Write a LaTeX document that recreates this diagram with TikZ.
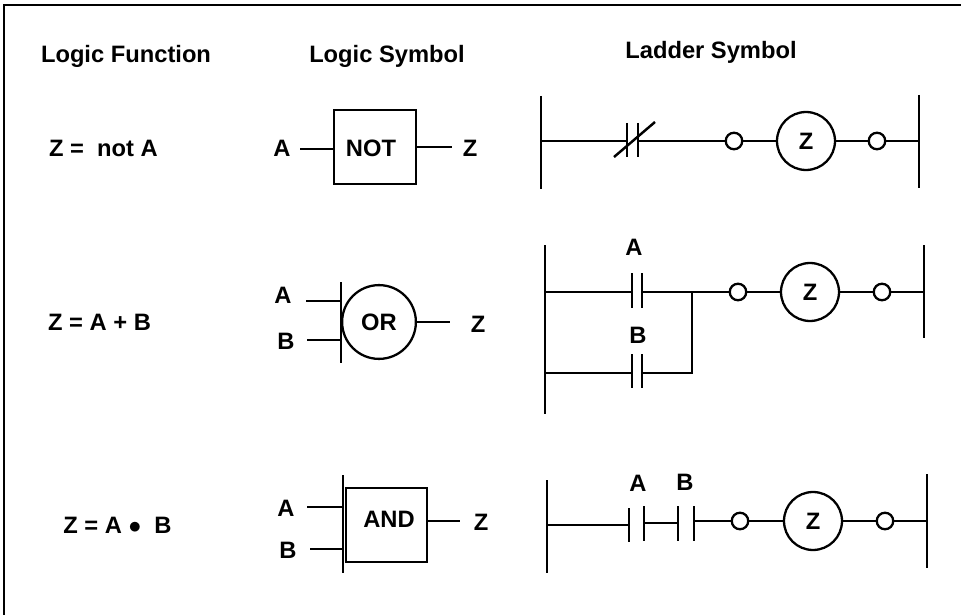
\documentclass[tikz,border=0pt]{standalone}
\usepackage{fontspec}
\setmainfont{Liberation Sans}
\usepackage{tikz}
\usetikzlibrary{positioning, calc}

\tikzset{
    wire/.style={line width=1.4pt},
    rail/.style={line width=1.5pt},
    lbl/.style={font=\fontsize{13.5}{15}\selectfont\bfseries, inner sep=0pt},
    coil/.style={draw, circle, line width=1.3pt, minimum size=33pt, inner sep=0pt, font=\fontsize{13.5}{15}\selectfont\bfseries},
    lamp/.style={draw, circle, line width=1.3pt, minimum size=9.4pt, inner sep=0pt},
    gatebox/.style={draw, line width=1.3pt, inner sep=0pt}
}

\begin{document}
\begin{tikzpicture}[x=0.02cm, y=-0.02cm]
    \useasboundingbox (0,0) rectangle (961,615);
    \draw[line width=1.4pt] (4,615) -- (4,5) -- (961,5);
    % column heads
    \node[lbl] (headfunc) at (126,56) {Logic Function};
    \node[lbl] (headsym) at (387,56) {Logic Symbol};
    \node[lbl] (headlad) at (711,52) {Ladder Symbol};
    % logic functions
    \node[lbl] (fnot) at (103.5,148) {Z =\ \ not A};
    \node[lbl] (for) at (99.5,322) {Z = A + B};
    \node[lbl] (fand) at (117.5,525) {Z = A {\Large$\bullet$}\ \ B};

    % NOT gate
    \node[gatebox, minimum width=46.7pt, minimum height=42pt] (notbox) at (375,147) {};
    \node[lbl] (nottxt) at (371,148) {NOT};
    \node[lbl] (notA) at (282,148) {A};
    \node[lbl] (notZ) at (470,148) {Z};
    \coordinate (notin) at (300,149);
    \coordinate (notout) at (452,147);
    \draw[wire] (notin) -- (notin -| notbox.west);
    \draw[wire] (notout -| notbox.east) -- (notout);

    % NOT ladder rung
    \coordinate (railLa) at (541,96);
    \coordinate (railLb) at (541,189);
    \coordinate (railRa) at (919,95);
    \coordinate (railRb) at (919,188);
    \draw[rail] (railLa) -- (railLb);
    \draw[rail] (railRa) -- (railRb);
    \coordinate (ncL) at (627,141);
    \coordinate (ncR) at (638,141);
    \node[lamp] (lampa) at (734,141) {};
    \node[coil] (coila) at (806,141) {Z};
    \node[lamp] (lampb) at (877,141) {};
    \draw[wire] (ncL |- railLa) ++(0,27) -- ++(0,34);
    \draw[wire] (ncR |- railLa) ++(0,27) -- ++(0,34);
    \draw[wire] (614,157) -- (655,122);
    \draw[wire] (railLa |- ncL) -- (ncL);
    \draw[wire] (ncR) -- (lampa);
    \draw[wire] (lampa) -- (coila);
    \draw[wire] (coila) -- (lampb);
    \draw[wire] (lampb) -- (railRa |- lampb);

    % OR gate
    \node[draw, circle, line width=1.3pt, minimum size=42pt, inner sep=0pt, font=\fontsize{13.5}{15}\selectfont\bfseries] (orc) at (379,322) {OR};
    \coordinate (orbara) at (341,282);
    \coordinate (orbarb) at (341,363);
    \draw[rail] (orbara) -- (orbarb);
    \node[lbl] (orA) at (283,295) {A};
    \node[lbl] (orB) at (286,341) {B};
    \node[lbl] (orZ) at (478,324) {Z};
    \coordinate (orina) at (306,301);
    \coordinate (orinb) at (307,340);
    \coordinate (orout) at (450,322);
    \draw[wire] (orina) -- (orina -| orbara);
    \draw[wire] (orinb) -- (orinb -| orbara);
    \draw[wire] (orc) -- (orout);

    % OR ladder rungs
    \draw[rail] (545,245) -- (545,414);
    \draw[rail] (924,245) -- (924,338);
    \node[lbl] (ladA) at (634,247) {A};
    \node[lbl] (ladB) at (638,335) {B};
    \node[lamp] (lampc) at (738,292) {};
    \node[coil] (coilb) at (810,292) {Z};
    \node[lamp] (lampd) at (882,292) {};
    \coordinate (joinb) at (692,292);
    \foreach \barx in {632,642} {
        \draw[wire] (\barx,273) -- (\barx,308);
        \draw[wire] (\barx,354) -- (\barx,388);
    }
    \draw[wire] (545,292) -- (632,292);
    \draw[wire] (642,292) -- (lampc);
    \draw[wire] (545,373) -- (632,373);
    \draw[wire] (642,373) -- (692,373) -- (joinb);
    \draw[wire] (lampc) -- (coilb);
    \draw[wire] (coilb) -- (lampd);
    \draw[wire] (lampd) -- (924,292);

    % AND gate
    \node[gatebox, minimum width=46pt, minimum height=42pt] (andbox) at (386.5,525) {};
    \node[lbl] (andtxt) at (389,519) {AND};
    \draw[rail] (343,475) -- (343,573);
    \node[lbl] (andA) at (286,508) {A};
    \node[lbl] (andB) at (288,550) {B};
    \node[lbl] (andZ) at (481,522) {Z};
    \coordinate (andout) at (460,521);
    \draw[wire] (307,507) -- (343,507);
    \draw[wire] (310,549) -- (343,549);
    \draw[wire] (andout -| andbox.east) -- (andout);

    % AND ladder rung
    \draw[rail] (547,480) -- (547,573);
    \draw[rail] (927,474) -- (927,568);
    \node[lbl] (serA) at (638,483) {A};
    \node[lbl] (serB) at (685,482) {B};
    \node[lamp] (lampe) at (740,521) {};
    \node[coil] (coilc) at (813,521) {Z};
    \node[lamp] (lampf) at (885,521) {};
    \draw[wire] (629,508) -- (629,542);
    \foreach \barx in {644,678,694} {
        \draw[wire] (\barx,506) -- (\barx,541);
    }
    \draw[wire] (547,525) -- (629,525);
    \draw[wire] (644,523) -- (678,523);
    \draw[wire] (694,521) -- (lampe);
    \draw[wire] (lampe) -- (coilc);
    \draw[wire] (coilc) -- (lampf);
    \draw[wire] (lampf) -- (927,521);
\end{tikzpicture}
\end{document}
